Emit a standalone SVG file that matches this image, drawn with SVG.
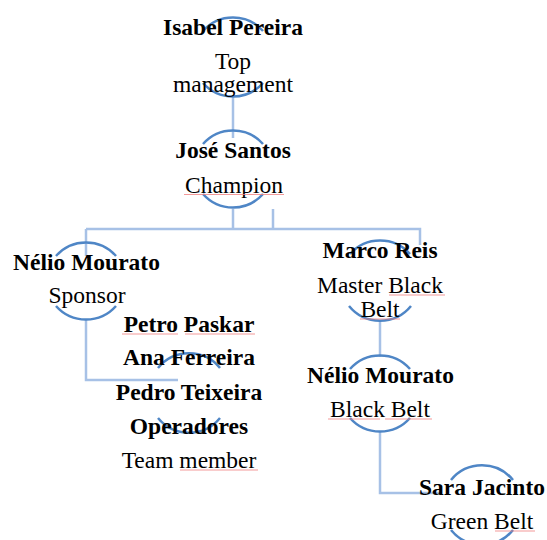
<svg xmlns="http://www.w3.org/2000/svg" width="547" height="540" viewBox="0 0 547 540">
<style>
.arc{fill:none;stroke:#4F86C6;stroke-width:2.5}
.con{fill:none;stroke:#A7C1E6;stroke-width:2.5}
.sp{fill:none;stroke:#F08080;stroke-width:1;opacity:0.8}
text{font-family:"Liberation Serif","Times New Roman",serif;font-size:23.5px;fill:#000;text-anchor:middle}
.b{font-weight:bold}
</style>
<rect width="547" height="540" fill="#fff"/>
<g id="connectors">
<path class="con" d="M233 96V138"/>
<path class="con" d="M233 209V229"/>
<path class="con" d="M273 209V229"/>
<path class="con" d="M86 229H420V245"/>
<path class="con" d="M86 229V256"/>
<path class="con" d="M86 320V380H178"/>
<path class="con" d="M380 320V357"/>
<path class="con" d="M380 432V493H440"/>
</g>
<g id="node-isabel">
<path class="arc" d="M203 31 A40 40 0 0 1 263 31"/>
<path class="arc" d="M203 83 A40 40 0 0 0 263 83"/>
<text class="b" x="233" y="35">Isabel Pereira</text>
<text x="233" y="69">Top</text>
<text x="233" y="92">management</text>
</g>
<g id="node-jose">
<path class="arc" d="M203 144 A40 40 0 0 1 263 144"/>
<path class="arc" d="M203 194 A40 40 0 0 0 263 194"/>
<text class="b" x="233" y="158">José Santos</text>
<text x="234" y="193">Champion</text>
<path class="sp" d="M184 194.5H284"/>
</g>
<g id="node-nelio-sponsor">
<path class="arc" d="M56 256 A40 40 0 0 1 116 256"/>
<path class="arc" d="M56 306 A40 40 0 0 0 116 306"/>
<text class="b" x="86.5" y="270">Nélio Mourato</text>
<text x="87" y="303">Sponsor</text>
</g>
<g id="node-operadores">
<path class="arc" d="M158 368 A40 40 0 0 1 220 368"/>
<path class="arc" d="M158 418 A40 40 0 0 0 220 418"/>
<text class="b" x="189" y="332">Petro Paskar</text>
<path class="sp" d="M122 334H178M185 334H255"/>
<text class="b" x="189" y="365">Ana Ferreira</text>
<text class="b" x="189" y="400">Pedro Teixeira</text>
<text class="b" x="189" y="434">Operadores</text>
<text x="189" y="468">Team member</text>
<path class="sp" d="M180 470H258"/>
</g>
<g id="node-marco">
<path class="arc" d="M350 254 A40 40 0 0 1 410 254"/>
<path class="arc" d="M349 306 A40 40 0 0 0 411 306"/>
<text class="b" x="380" y="258">Marco Reis</text>
<text x="380" y="293">Master Black</text>
<path class="sp" d="M389 295H445"/>
<text x="380" y="317">Belt</text>
<path class="sp" d="M360 319H400"/>
</g>
<g id="node-nelio-bb">
<path class="arc" d="M350 369 A40 40 0 0 1 410 369"/>
<path class="arc" d="M350 418 A40 40 0 0 0 410 418"/>
<text class="b" x="380.5" y="383">Nélio Mourato</text>
<text x="380" y="417">Black Belt</text>
<path class="sp" d="M328 419H380M385 419H432"/>
</g>
<g id="node-sara">
<path class="arc" d="M451 480 A40 40 0 0 1 513 480"/>
<path class="arc" d="M451 530 A40 40 0 0 0 513 530"/>
<text class="b" x="482" y="495">Sara Jacinto</text>
<text x="482" y="529">Green Belt</text>
<path class="sp" d="M495 531H535"/>
</g>
</svg>
